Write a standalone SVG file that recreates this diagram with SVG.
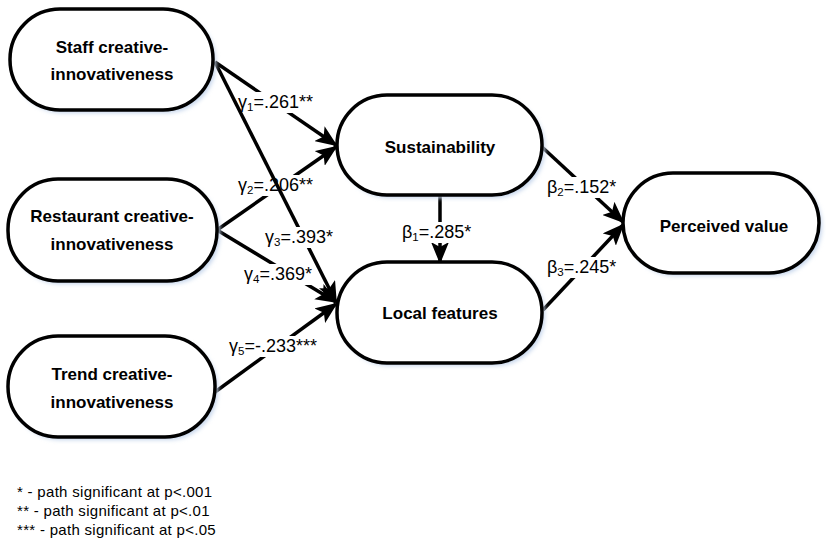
<svg xmlns="http://www.w3.org/2000/svg" width="826" height="545" viewBox="0 0 826 545">
<defs>
<filter id="blur" x="-10%" y="-10%" width="120%" height="130%"><feGaussianBlur stdDeviation="2"/></filter>
<marker id="arr" markerUnits="userSpaceOnUse" markerWidth="22" markerHeight="18" viewBox="0 0 22 18" refX="20" refY="9" orient="auto">
<path d="M0,0 L22,9 L0,18 L5,9 Z" fill="#000"/>
</marker>
</defs>
<style>
.node rect.sh{fill:#c6d6ec;filter:url(#blur)}
.node rect.bx{fill:#fff;stroke:#000;stroke-width:3.5}
.node text{font-family:"Liberation Sans",Arial,sans-serif;font-weight:bold;font-size:17px;text-anchor:middle;fill:#000}
.conn line{stroke:#000;stroke-width:3.5;marker-end:url(#arr)}
.lbl rect{fill:#fff}
.lbl text{font-family:"Liberation Sans",Arial,sans-serif;font-size:18px;fill:#000}
.lbl tspan.s{font-size:11.5px}
.note text{font-family:"Liberation Sans",Arial,sans-serif;font-size:15px;letter-spacing:0.3px;fill:#000}
</style>
<rect width="826" height="545" fill="#fff"/>
<g id="connectors" class="conn">
<g id="e-staff-sust"><line x1="215" y1="62" x2="336" y2="145"/>
<g class="lbl"><rect x="238" y="92" width="82" height="21"/>
<text x="238" y="108">γ<tspan class="s" dy="3">1</tspan><tspan dy="-3">=.261**</tspan></text></g></g>
<g id="e-rest-sust"><line x1="217" y1="230" x2="336" y2="147"/>
<g class="lbl"><rect x="238" y="175" width="82" height="21"/>
<text x="238" y="191">γ<tspan class="s" dy="3">2</tspan><tspan dy="-3">=.206**</tspan></text></g></g>
<g id="e-rest-local"><line x1="217" y1="230" x2="336" y2="302"/>
<g class="lbl"><rect x="243" y="264" width="72" height="21"/>
<text x="244" y="280">γ<tspan class="s" dy="3">4</tspan><tspan dy="-3">=.369*</tspan></text></g></g>
<g id="e-trend-local"><line x1="215" y1="392" x2="336" y2="304"/>
<g class="lbl"><rect x="228" y="336" width="98" height="21"/>
<text x="229" y="352">γ<tspan class="s" dy="3">5</tspan><tspan dy="-3">=-.233***</tspan></text></g></g>
<g id="e-sust-local"><line x1="440" y1="195" x2="440" y2="262"/>
<g class="lbl"><rect x="401" y="222" width="77" height="21"/>
<text x="402" y="238">β<tspan class="s" dy="3">1</tspan><tspan dy="-3">=.285*</tspan></text></g></g>
<g id="e-sust-pv"><line x1="542" y1="147" x2="623" y2="222"/>
<g class="lbl"><rect x="546" y="177" width="77" height="21"/>
<text x="547" y="193">β<tspan class="s" dy="3">2</tspan><tspan dy="-3">=.152*</tspan></text></g></g>
<g id="e-local-pv"><line x1="543" y1="310" x2="623" y2="225"/>
<g class="lbl"><rect x="546" y="257" width="77" height="21"/>
<text x="547" y="273">β<tspan class="s" dy="3">3</tspan><tspan dy="-3">=.245*</tspan></text></g></g>
<g id="e-staff-local"><line x1="215" y1="62" x2="336" y2="302"/>
<g class="lbl"><rect x="265" y="227" width="68" height="21"/>
<text x="265" y="243">γ<tspan class="s" dy="3">3</tspan><tspan dy="-3">=.393*</tspan></text></g></g>
</g>
<g id="staff" class="node">
<rect class="sh" x="13" y="12" width="203" height="101" rx="50"/>
<rect class="bx" x="10" y="9" width="203" height="101" rx="50"/>
<text x="112" y="53">Staff creative-</text>
<text x="112" y="80">innovativeness</text>
</g>
<g id="restaurant" class="node">
<rect class="sh" x="11" y="182" width="209" height="102" rx="50"/>
<rect class="bx" x="8" y="179" width="209" height="102" rx="50"/>
<text x="112" y="222">Restaurant creative-</text>
<text x="112" y="250">innovativeness</text>
</g>
<g id="trend" class="node">
<rect class="sh" x="11" y="339" width="207" height="101" rx="50"/>
<rect class="bx" x="8" y="336" width="207" height="101" rx="50"/>
<text x="112" y="380">Trend creative-</text>
<text x="112" y="408">innovativeness</text>
</g>
<g id="sustainability" class="node">
<rect class="sh" x="340" y="98" width="205" height="100" rx="50"/>
<rect class="bx" x="337" y="95" width="205" height="100" rx="50"/>
<text x="440" y="153">Sustainability</text>
</g>
<g id="local" class="node">
<rect class="sh" x="340" y="265" width="205" height="101" rx="50"/>
<rect class="bx" x="337" y="262" width="205" height="101" rx="50"/>
<text x="440" y="319">Local features</text>
</g>
<g id="perceived" class="node">
<rect class="sh" x="626" y="176" width="196" height="100" rx="50"/>
<rect class="bx" x="623" y="173" width="196" height="100" rx="50"/>
<text x="724" y="232">Perceived value</text>
</g>
<g id="notes" class="note">
<text x="17" y="497">* - path significant at p&lt;.001</text>
<text x="17" y="516">** - path significant at p&lt;.01</text>
<text x="17" y="535">*** - path significant at p&lt;.05</text>
</g>
</svg>
